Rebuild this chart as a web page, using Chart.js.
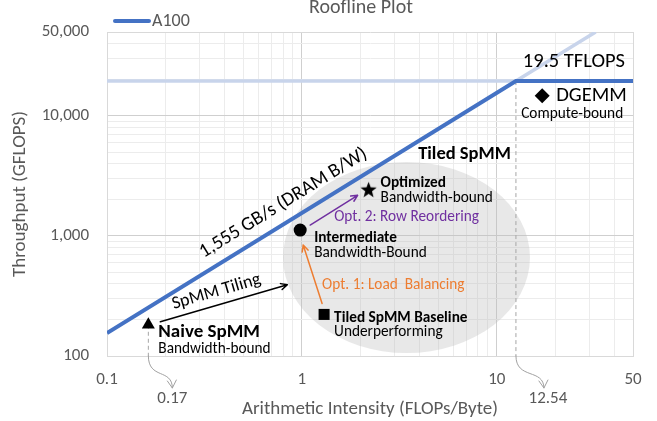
<!DOCTYPE html>
<html>
<head>
<meta charset="utf-8">
<script src="https://cdn.jsdelivr.net/npm/chart.js@4.4.1/dist/chart.umd.min.js"></script>
<style>
  html, body { margin: 0; padding: 0; background: #fff; }
</style>
</head>
<body>
<canvas id="roofline" width="657" height="421"></canvas>
<script>
// Valores dos eixos (log)
const xTickValues = [0.1, 0.2, 0.3, 0.4, 0.5, 0.6, 0.7, 0.8, 0.9, 1, 2, 3, 4, 5, 6, 7, 8, 9, 10, 20, 30, 40, 50];
const xTickLabels = [0.1, 1, 10, 50];
const xMajor = [1, 10];
const yTickValues = [100, 200, 300, 400, 500, 600, 700, 800, 900, 1000, 2000, 3000, 4000, 5000, 6000, 7000, 8000, 9000, 10000, 20000, 30000, 40000, 50000];
const yTickLabels = [100, 1000, 10000, 50000];
const yMajor = [1000, 10000];

// Roofline do A100
const roofX = [0.1, 12.54, 50];
const roofY = [155.5, 19500, 19500];
const ceilX = [0.1, 12.54];
const ceilY = [19500, 19500];
const diagX = [12.54, 32.15];
const diagY = [19500, 50000];
const ridgeX = 12.54;

// Kernels medidos
const kernelNames = ['Naive SpMM', 'Tiled SpMM Baseline', 'Intermediate', 'Optimized', 'DGEMM'];
const kernelNotes = ['Bandwidth-bound', 'Underperforming', 'Bandwidth-Bound', 'Bandwidth-bound', 'Compute-bound'];
const kernelX = [0.163, 1.3, 0.98, 2.2, 17.1];
const kernelY = [182, 222, 1120, 2400, 14700];

// Região "Tiled SpMM" (limites da elipse)
const tiledX = [0.8, 14.8];
const tiledY = [106, 4140];

const FONTE = 'Carlito, Lato, "Liberation Sans", sans-serif';
const CINZA = '#595959';
const AZUL = '#4472C4';
const PEQ = '15.3px ';

// Estrela desenhada num canvas para usar como pointStyle
function criarEstrela(r) {
    const c = document.createElement('canvas');
    const s = Math.ceil(r * 2) + 2;
    c.width = s; c.height = s;
    const g = c.getContext('2d');
    g.beginPath();
    for (let i = 0; i < 10; i++) {
        const rad = i % 2 === 0 ? r : r * 0.42;
        const a = -Math.PI / 2 + i * Math.PI / 5;
        g.lineTo(s / 2 + rad * Math.cos(a), s / 2 + rad * Math.sin(a));
    }
    g.closePath();
    g.fillStyle = '#000';
    g.fill();
    return c;
}

const estilos = ['triangle', 'rect', 'circle', criarEstrela(8.5), 'rectRot'];
const raios = [7.5, 7.8, 6.5, 8, 7.5];

function texto(ctx, s, x, y, font, cor, align) {
    ctx.font = font;
    ctx.fillStyle = cor || '#000';
    ctx.textAlign = align || 'left';
    ctx.textBaseline = 'middle';
    ctx.fillText(s, x, y);
}

function seta(ctx, x1, y1, x2, y2, cor, lw) {
    const ang = Math.atan2(y2 - y1, x2 - x1), h = 7;
    ctx.save();
    ctx.strokeStyle = cor;
    ctx.lineWidth = lw;
    ctx.lineCap = 'round';
    ctx.lineJoin = 'round';
    ctx.beginPath();
    ctx.moveTo(x1, y1);
    ctx.lineTo(x2, y2);
    ctx.moveTo(x2 - h * Math.cos(ang - 0.45), y2 - h * Math.sin(ang - 0.45));
    ctx.lineTo(x2, y2);
    ctx.lineTo(x2 - h * Math.cos(ang + 0.45), y2 - h * Math.sin(ang + 0.45));
    ctx.stroke();
    ctx.restore();
}

function setaCurva(ctx, x0, y0, dx, y1) {
    const x1 = x0 + dx;
    ctx.save();
    ctx.strokeStyle = '#a0a0a0';
    ctx.lineWidth = 1;
    ctx.beginPath();
    ctx.moveTo(x0, y0);
    ctx.bezierCurveTo(x0, y0 + 24, x1, y1 - 20, x1, y1);
    ctx.moveTo(x1 - 5, y1 - 7);
    ctx.lineTo(x1, y1);
    ctx.lineTo(x1 + 4, y1 - 8);
    ctx.stroke();
    ctx.restore();
}

// Plugin com as anotações do gráfico
const anotacoes = {
    id: 'anotacoes',
    beforeDatasetsDraw(chart) {
        const { ctx, chartArea: a, scales: { x, y } } = chart;
        const l = x.getPixelForValue(tiledX[0]), r = x.getPixelForValue(tiledX[1]);
        const t = y.getPixelForValue(tiledY[1]), b = y.getPixelForValue(tiledY[0]);
        ctx.save();
        ctx.beginPath();
        ctx.ellipse((l + r) / 2, (t + b) / 2, (r - l) / 2, (b - t) / 2, 0, 0, Math.PI * 2);
        ctx.fillStyle = 'rgba(185,185,185,0.33)';
        ctx.fill();

        ctx.setLineDash([4, 3]);
        ctx.strokeStyle = '#a6a6a6';
        ctx.lineWidth = 1;
        const xr = x.getPixelForValue(ridgeX);
        ctx.beginPath();
        ctx.moveTo(xr, y.getPixelForValue(roofY[1]));
        ctx.lineTo(xr, a.bottom);
        const xn = x.getPixelForValue(kernelX[0]);
        ctx.moveTo(xn, y.getPixelForValue(kernelY[0]));
        ctx.lineTo(xn, a.bottom);
        ctx.stroke();
        ctx.restore();
    },
    afterDatasetsDraw(chart) {
        const { ctx, chartArea: a, scales: { x, y } } = chart;
        const px = kernelX.map(v => x.getPixelForValue(v));
        const py = kernelY.map(v => y.getPixelForValue(v));
        const ell = {
            cx: (x.getPixelForValue(tiledX[0]) + x.getPixelForValue(tiledX[1])) / 2,
            top: y.getPixelForValue(tiledY[1])
        };
        ctx.save();

        // rótulo da linha de banda
        const ax = x.getPixelForValue(roofX[0]), ay = y.getPixelForValue(roofY[0]);
        const bx = x.getPixelForValue(roofX[1]), by = y.getPixelForValue(roofY[1]);
        const ang = Math.atan2(by - ay, bx - ax);
        const mx = x.getPixelForValue(0.9), my = y.getPixelForValue(1400);
        ctx.save();
        ctx.translate(mx, my);
        ctx.rotate(ang);
        texto(ctx, '1,555 GB/s (DRAM B/W)', 0, -18, '19.5px ' + FONTE, '#000', 'center');
        ctx.restore();

        // teto de computação
        texto(ctx, '19.5 TFLOPS', a.right - 8, y.getPixelForValue(19500) - 19, '20.5px ' + FONTE, '#000', 'right');

        // Naive SpMM
        texto(ctx, kernelNames[0], px[0] + 10, py[0] + 7, 'bold 19px ' + FONTE);
        texto(ctx, kernelNotes[0], px[0] + 10, py[0] + 24, PEQ + FONTE);
        // Tiled baseline
        texto(ctx, kernelNames[1], px[1] + 10, py[1] + 4, 'bold ' + PEQ + FONTE);
        texto(ctx, kernelNotes[1], px[1] + 10, py[1] + 18, PEQ + FONTE);
        // Intermediate
        texto(ctx, kernelNames[2], px[2] + 14, py[2] + 8, 'bold ' + PEQ + FONTE);
        texto(ctx, kernelNotes[2], px[2] + 14, py[2] + 23, PEQ + FONTE);
        // Optimized
        texto(ctx, kernelNames[3], px[3] + 12, py[3] - 7, 'bold ' + PEQ + FONTE);
        texto(ctx, kernelNotes[3], px[3] + 12, py[3] + 8, PEQ + FONTE);
        // DGEMM
        texto(ctx, kernelNames[4], px[4] + 14, py[4], '20.5px ' + FONTE);
        texto(ctx, kernelNotes[4], px[4] + 30, py[4] + 18, PEQ + FONTE, '#000', 'center');

        texto(ctx, 'Tiled SpMM', ell.cx + 58, ell.top - 8, 'bold 18.5px ' + FONTE, '#000', 'center');

        // setas de otimização
        seta(ctx, px[1] - 2, py[1] - 11, px[2] + 3, py[2] + 15, '#ED7D31', 1.5);
        texto(ctx, 'Opt. 1: Load  Balancing', px[1] - 2, py[1] - 29, PEQ + FONTE, '#ED7D31');
        seta(ctx, px[2] + 10, py[2] - 5, px[3] - 11, py[3] + 5, '#7030A0', 1.5);
        texto(ctx, 'Opt. 2: Row Reordering', px[2] + 34, py[2] - 13, PEQ + FONTE, '#7030A0');

        // SpMM Tiling
        const t1x = px[0] + 12, t1y = py[0] - 3, t2x = px[0] + 139, t2y = py[0] - 40;
        seta(ctx, t1x, t1y, t2x, t2y, '#000', 1.5);
        ctx.save();
        ctx.translate((t1x + t2x) / 2, (t1y + t2y) / 2);
        ctx.rotate(Math.atan2(t2y - t1y, t2x - t1x));
        texto(ctx, 'SpMM Tiling', -4, -13, '18px ' + FONTE, '#000', 'center');
        ctx.restore();

        ctx.restore();
    },
    afterDraw(chart) {
        const { ctx, chartArea: a, scales: { x } } = chart;
        ctx.save();
        // título e legenda
        texto(ctx, 'Roofline Plot', (a.left + a.right) / 2 - 9, 8, '20px ' + FONTE, CINZA, 'center');
        ctx.strokeStyle = AZUL;
        ctx.lineWidth = 4;
        ctx.lineCap = 'round';
        ctx.beginPath();
        ctx.moveTo(115, 21);
        ctx.lineTo(149, 21);
        ctx.stroke();
        texto(ctx, 'A100', 152, 21, '18px ' + FONTE, CINZA);

        // títulos dos eixos
        texto(ctx, 'Arithmetic Intensity (FLOPs/Byte)', (a.left + a.right) / 2, 409, '19px ' + FONTE, CINZA, 'center');
        ctx.save();
        ctx.translate(20, (a.top + a.bottom) / 2);
        ctx.rotate(-Math.PI / 2);
        texto(ctx, 'Throughput (GFLOPS)', 0, 0, '19px ' + FONTE, CINZA, 'center');
        ctx.restore();

        // marcas extras no eixo x
        const xn = x.getPixelForValue(kernelX[0]);
        const xr = x.getPixelForValue(ridgeX);
        setaCurva(ctx, xn, a.bottom, 24, 388);
        setaCurva(ctx, xr, a.bottom, 28, 388);
        texto(ctx, String(0.17), xn + 24, 399, '17px ' + FONTE, CINZA, 'center');
        texto(ctx, String(ridgeX), xr + 32, 399, '17px ' + FONTE, CINZA, 'center');
        ctx.restore();
    }
};

Chart.defaults.font.family = FONTE;

const pontos = kernelNames.map((nome, i) => ({
    label: nome,
    data: [{ x: kernelX[i], y: kernelY[i] }],
    pointStyle: estilos[i],
    pointRadius: raios[i],
    backgroundColor: '#000',
    borderColor: '#000',
    borderWidth: 0,
    showLine: false
}));

const linhas = [
    {
        label: 'A100',
        data: roofX.map((v, i) => ({ x: v, y: roofY[i] })),
        borderColor: AZUL,
        borderWidth: 4,
        pointRadius: 0,
        showLine: true
    },
    {
        label: 'ceiling',
        data: ceilX.map((v, i) => ({ x: v, y: ceilY[i] })),
        borderColor: '#c8d4eb',
        borderWidth: 3.5,
        pointRadius: 0,
        showLine: true
    },
    {
        label: 'bandwidth ext',
        data: diagX.map((v, i) => ({ x: v, y: diagY[i] })),
        borderColor: '#c8d4eb',
        borderWidth: 3.5,
        pointRadius: 0,
        showLine: true
    }
];

function corGrade(v, major, ends) {
    if (ends.includes(v)) return '#d9d9d9';
    return major.includes(v) ? '#cfcfcf' : '#ececec';
}

const config = {
    type: 'scatter',
    data: { datasets: pontos.concat(linhas) },
    options: {
        responsive: false,
        animation: false,
        layout: { padding: { top: 32, right: 24, left: 0, bottom: 0 } },
        plugins: {
            legend: { display: false },
            title: { display: false },
            tooltip: { enabled: false }
        },
        scales: {
            x: {
                type: 'logarithmic',
                min: 0.1,
                max: 50,
                afterBuildTicks: s => { s.ticks = xTickValues.map(v => ({ value: v })); },
                afterFit: s => { s.height = 65; },
                grid: {
                    drawTicks: false,
                    color: c => corGrade(c.tick ? c.tick.value : 0, xMajor, [0.1, 50])
                },
                border: { color: '#d9d9d9' },
                ticks: {
                    autoSkip: false,
                    maxRotation: 0,
                    padding: 14,
                    color: CINZA,
                    font: { size: 17 },
                    callback: v => xTickLabels.includes(v) ? String(v) : ''
                }
            },
            y: {
                type: 'logarithmic',
                min: 100,
                max: 50000,
                afterBuildTicks: s => { s.ticks = yTickValues.map(v => ({ value: v })); },
                afterFit: s => { s.width = 107; },
                grid: {
                    drawTicks: false,
                    color: c => corGrade(c.tick ? c.tick.value : 0, yMajor, [100, 50000])
                },
                border: { color: '#d9d9d9' },
                ticks: {
                    autoSkip: false,
                    padding: 18,
                    color: CINZA,
                    font: { size: 17 },
                    callback: v => yTickLabels.includes(v) ? v.toLocaleString('en-US') : ''
                }
            }
        }
    },
    plugins: [anotacoes]
};

window.onload = () => {
    const ctx = document.getElementById('roofline').getContext('2d');
    new Chart(ctx, config);
};
</script>
</body>
</html>
